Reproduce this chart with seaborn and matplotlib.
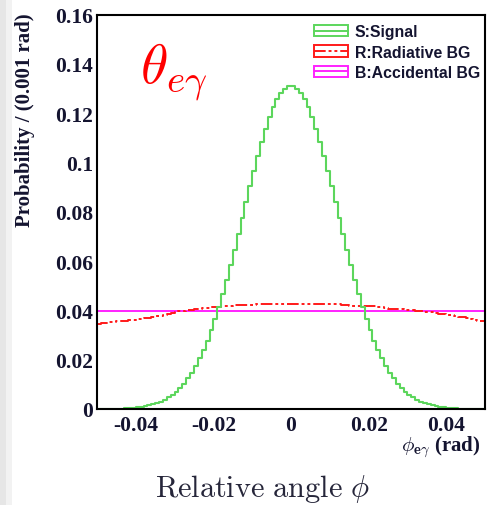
import numpy as np
import pandas as pd
import seaborn as sns
import matplotlib
matplotlib.use("Agg")
import matplotlib.pyplot as plt
from matplotlib.patches import Patch, Rectangle
from matplotlib.lines import Line2D
from matplotlib.ticker import MultipleLocator, FixedLocator

# ---------------- data (probability per 0.001 rad bin) ----------------
bin_edges = np.linspace(-0.05, 0.05, 101)
bin_centers = 0.5 * (bin_edges[:-1] + bin_edges[1:])

signal = [
    0.0000, 0.0000, 0.0001, 0.0001, 0.0001, 0.0002, 0.0002, 0.0003, 0.0004, 0.0005,
    0.0007, 0.0009, 0.0012, 0.0015, 0.0019, 0.0024, 0.0030, 0.0038, 0.0047, 0.0058,
    0.0070, 0.0086, 0.0103, 0.0124, 0.0147, 0.0174, 0.0205, 0.0239, 0.0277, 0.0319,
    0.0365, 0.0415, 0.0468, 0.0525, 0.0584, 0.0646, 0.0710, 0.0775, 0.0840, 0.0905,
    0.0967, 0.1028, 0.1084, 0.1137, 0.1183, 0.1224, 0.1257, 0.1283, 0.1300, 0.1309,
    0.1309, 0.1300, 0.1283, 0.1257, 0.1224, 0.1183, 0.1137, 0.1084, 0.1028, 0.0967,
    0.0905, 0.0840, 0.0775, 0.0710, 0.0646, 0.0584, 0.0525, 0.0468, 0.0415, 0.0365,
    0.0319, 0.0277, 0.0239, 0.0205, 0.0174, 0.0147, 0.0124, 0.0103, 0.0086, 0.0070,
    0.0058, 0.0047, 0.0038, 0.0030, 0.0024, 0.0019, 0.0015, 0.0012, 0.0009, 0.0007,
    0.0005, 0.0004, 0.0003, 0.0002, 0.0002, 0.0001, 0.0001, 0.0001, 0.0000, 0.0000,
]

radiative = [
    0.0345, 0.0347, 0.0349, 0.0351, 0.0353, 0.0355, 0.0357, 0.0359, 0.0361, 0.0363,
    0.0365, 0.0367, 0.0369, 0.0371, 0.0374, 0.0376, 0.0378, 0.0380, 0.0386, 0.0390,
    0.0395, 0.0397, 0.0399, 0.0401, 0.0403, 0.0405, 0.0407, 0.0408, 0.0410, 0.0412,
    0.0414, 0.0415, 0.0417, 0.0418, 0.0419, 0.0421, 0.0422, 0.0422, 0.0423, 0.0423,
    0.0423, 0.0424, 0.0424, 0.0424, 0.0425, 0.0425, 0.0425, 0.0425, 0.0425, 0.0425,
    0.0426, 0.0426, 0.0426, 0.0426, 0.0426, 0.0426, 0.0426, 0.0426, 0.0426, 0.0426,
    0.0426, 0.0426, 0.0425, 0.0420, 0.0420, 0.0419, 0.0419, 0.0419, 0.0418, 0.0418,
    0.0417, 0.0416, 0.0415, 0.0412, 0.0409, 0.0407, 0.0406, 0.0405, 0.0404, 0.0403,
    0.0402, 0.0400, 0.0398, 0.0396, 0.0395, 0.0394, 0.0392, 0.0390, 0.0387, 0.0385,
    0.0383, 0.0380, 0.0378, 0.0375, 0.0372, 0.0369, 0.0366, 0.0362, 0.0359, 0.0356,
]

accidental = [0.0397] * 100

legend_labels = ["S:Signal", "R:Radiative BG", "B:Accidental BG"]
x_ticks = [-0.04, -0.02, 0, 0.02, 0.04]
x_tick_labels = ["-0.04", "-0.02", "0", "0.02", "0.04"]
y_ticks = [0, 0.02, 0.04, 0.06, 0.08, 0.10, 0.12, 0.14, 0.16]
y_tick_labels = ["0", "0.02", "0.04", "0.06", "0.08", "0.1", "0.12", "0.14", "0.16"]

# ---------------- style ----------------
sns.set_theme(style="white")
plt.rcParams["font.family"] = ["Liberation Serif", "DejaVu Serif"]
plt.rcParams["mathtext.fontset"] = "cm"
plt.rcParams["axes.unicode_minus"] = False

c_sig = "#5cd65c"
c_rad = "#ff1a1a"
c_acc = "#ff22ff"
tick_col = "#141430"

fig = plt.figure(figsize=(4.87, 5.06), dpi=100)
fig.patch.set_facecolor("white")
fig.add_artist(Rectangle((0, 0), 6 / 487, 1, transform=fig.transFigure,
                         facecolor="#e6e6e6", edgecolor="none", zorder=0))
fig.add_artist(Rectangle((6 / 487, 0), 6 / 487, 1, transform=fig.transFigure,
                         facecolor="#f2f2f2", edgecolor="none", zorder=0))
ax = fig.add_axes([97 / 487, 1 - 410 / 506, 388 / 487, (410 - 15.6) / 506])

styles = {
    "S:Signal": dict(color=c_sig, linestyle="-", linewidth=1.5),
    "R:Radiative BG": dict(color=c_rad, linestyle=(0, (6, 1.5, 1.5, 1.5, 1.5, 1.5)), linewidth=1.4),
    "B:Accidental BG": dict(color=c_acc, linestyle="-", linewidth=1.4),
}
series = {"S:Signal": signal, "R:Radiative BG": radiative, "B:Accidental BG": accidental}
for lab in [legend_labels[2], legend_labels[1], legend_labels[0]]:
    sub = pd.DataFrame({"phi": bin_centers, "prob": np.asarray(series[lab], dtype=float)})
    sns.histplot(data=sub, x="phi", weights="prob", bins=100, binrange=(-0.05, 0.05),
                 element="step", fill=False, ax=ax, **styles[lab])

ax.set_xlim(-0.05, 0.05)
ax.set_ylim(0, 0.16)
ax.set_xlabel("")
ax.set_ylabel("")

ax.xaxis.set_major_locator(FixedLocator(x_ticks))
ax.set_xticklabels(x_tick_labels)
ax.yaxis.set_major_locator(FixedLocator(y_ticks))
ax.set_yticklabels(y_tick_labels)
ax.xaxis.set_minor_locator(MultipleLocator(0.005))
ax.yaxis.set_minor_locator(MultipleLocator(0.005))
ax.tick_params(which="both", direction="in", color="black", width=1.3,
               top=False, right=False, labelcolor=tick_col, labelsize=15.5)
ax.tick_params(which="major", length=9)
ax.tick_params(which="minor", length=5)
ax.tick_params(axis="x", which="major", pad=4)
ax.tick_params(axis="y", which="major", pad=3)
for t in ax.get_xticklabels() + ax.get_yticklabels():
    t.set_fontweight("bold")
for s in ax.spines.values():
    s.set_color("black")
    s.set_linewidth(1.5)

# y axis title
fig.text(25 / 487, 1 - 120 / 506, "Probability / (0.001 rad)", rotation=90,
         ha="center", va="center", fontsize=15, fontweight="bold", color=tick_col)
# x axis title (ROOT style, right aligned)
fig.text(481 / 487, 1 - 447 / 506, r"$\mathbf{\phi_{e\gamma}}$ (rad)",
         ha="right", va="center", fontsize=15, fontweight="bold", color=tick_col)
# big annotation
ax.text(0.11, 0.855, r"$\theta_{e\gamma}$", transform=ax.transAxes,
        color="#ff0000", fontsize=40, ha="left", va="center")
# bottom caption
fig.text(262 / 487, 1 - 489 / 506, r"$\mathrm{Relative\ angle}\ \phi$",
         ha="center", va="center", fontsize=21.8, color="#26263a")

# legend
handles = []
for lab in legend_labels:
    st = styles[lab]
    handles.append((Patch(facecolor="white", edgecolor=st["color"], linewidth=1.4),
                    Line2D([], [], color=st["color"], linestyle=st["linestyle"], linewidth=1.4)))
leg = ax.legend(handles, legend_labels, loc="upper left", bbox_to_anchor=(0.56, 0.975),
                frameon=False, handlelength=2.1, handleheight=0.7, handletextpad=0.45,
                labelspacing=0.32, borderaxespad=0.0, borderpad=0.0,
                prop={"family": "Liberation Sans", "weight": "bold", "size": 11.4})
for t in leg.get_texts():
    t.set_color(tick_col)

fig.savefig("out.png", dpi=100, facecolor="white")
